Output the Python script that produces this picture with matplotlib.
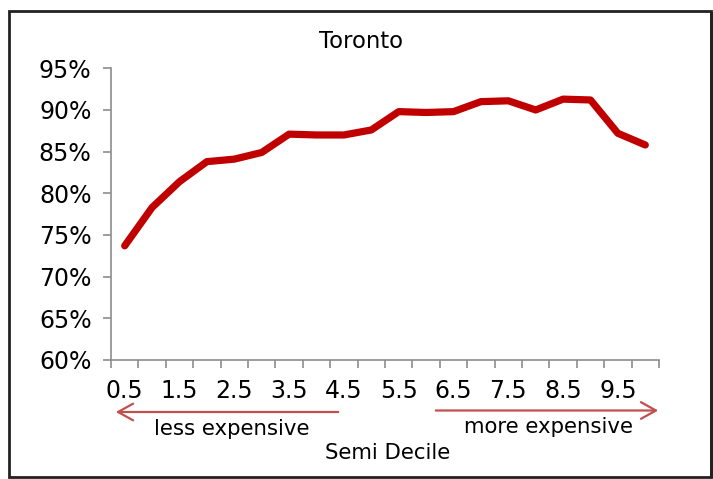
import matplotlib
matplotlib.use("Agg")
import matplotlib.pyplot as plt
from matplotlib.patches import Rectangle, FancyArrowPatch
from matplotlib.ticker import FuncFormatter

# Share of value by semi-decile, Toronto
semi_deciles = [0.5, 1.0, 1.5, 2.0, 2.5, 3.0, 3.5, 4.0, 4.5, 5.0,
                5.5, 6.0, 6.5, 7.0, 7.5, 8.0, 8.5, 9.0, 9.5, 10.0]
share = [73.7, 78.3, 81.4, 83.8, 84.1, 84.9, 87.1, 87.0, 87.0, 87.6,
         89.8, 89.7, 89.8, 91.0, 91.1, 90.0, 91.3, 91.2, 87.2, 85.8]
tick_labels = ["0.5", "1.5", "2.5", "3.5", "4.5", "5.5", "6.5", "7.5", "8.5", "9.5"]

W, H = 713, 479
fig = plt.figure(figsize=(W / 100, H / 100), dpi=100)
fig.patch.set_facecolor("white")

def fx(px):
    return px / W

def fy(py):
    return 1 - py / H

ax = fig.add_axes([fx(111), fy(360), fx(659) - fx(111), fy(68.3) - fy(360)])

pos = list(range(len(semi_deciles)))
ax.plot(pos, share, color="#C00000", lw=5.2, solid_capstyle="round",
        solid_joinstyle="round")

ax.set_xlim(-0.5, len(pos) - 0.5)
ax.set_ylim(60, 95)
ax.set_yticks(range(60, 96, 5))
ax.yaxis.set_major_formatter(FuncFormatter(lambda v, p: f"{v:.0f}%"))

# category boundaries carry the tick marks; labels sit on every other category
ax.set_xticks([i - 0.5 for i in range(len(pos) + 1)])
ax.set_xticklabels([])
ax.set_xticks(pos[::2], minor=True)
ax.set_xticklabels(tick_labels, minor=True)
ax.tick_params(axis="x", which="minor", length=0, pad=14, labelsize=17)
ax.tick_params(axis="x", which="major", length=6, width=1.2, color="#8c8c8c")
ax.tick_params(axis="y", length=6, width=1.2, color="#8c8c8c", labelsize=17, pad=8)

for side in ("top", "right"):
    ax.spines[side].set_visible(False)
for side in ("left", "bottom"):
    ax.spines[side].set_color("#8c8c8c")
    ax.spines[side].set_linewidth(1.2)

fig.text(fx(361), fy(42), "Toronto", ha="center", va="center", fontsize=16.4)
fig.text(fx(232), fy(429), "less expensive", ha="center", va="center", fontsize=15.3)
fig.text(fx(549), fy(427), "more expensive", ha="center", va="center", fontsize=15.3)
fig.text(fx(388), fy(453), "Semi Decile", ha="center", va="center", fontsize=15.3)

arrow_kw = dict(arrowstyle="->,head_length=0.9,head_width=0.5", color="#C0504D",
                lw=1.6, transform=fig.transFigure, mutation_scale=12)
fig.patches.append(FancyArrowPatch((fx(341), fy(412)), (fx(113), fy(412)), **arrow_kw))
fig.patches.append(FancyArrowPatch((fx(433), fy(410.5)), (fx(661), fy(410.5)), **arrow_kw))

# chart frame
fig.patches.append(Rectangle((fx(8.7), fy(477)), fx(710.5) - fx(8.7), fy(10.7) - fy(477),
                             transform=fig.transFigure, fill=False,
                             edgecolor="#222222", lw=2.0))
fig.patches.append(Rectangle((fx(709.5), fy(477.5)), fx(3), fy(12) - fy(477.5),
                             transform=fig.transFigure, facecolor="#222222",
                             edgecolor="none"))

fig.savefig("out.png", dpi=100, facecolor="white")
